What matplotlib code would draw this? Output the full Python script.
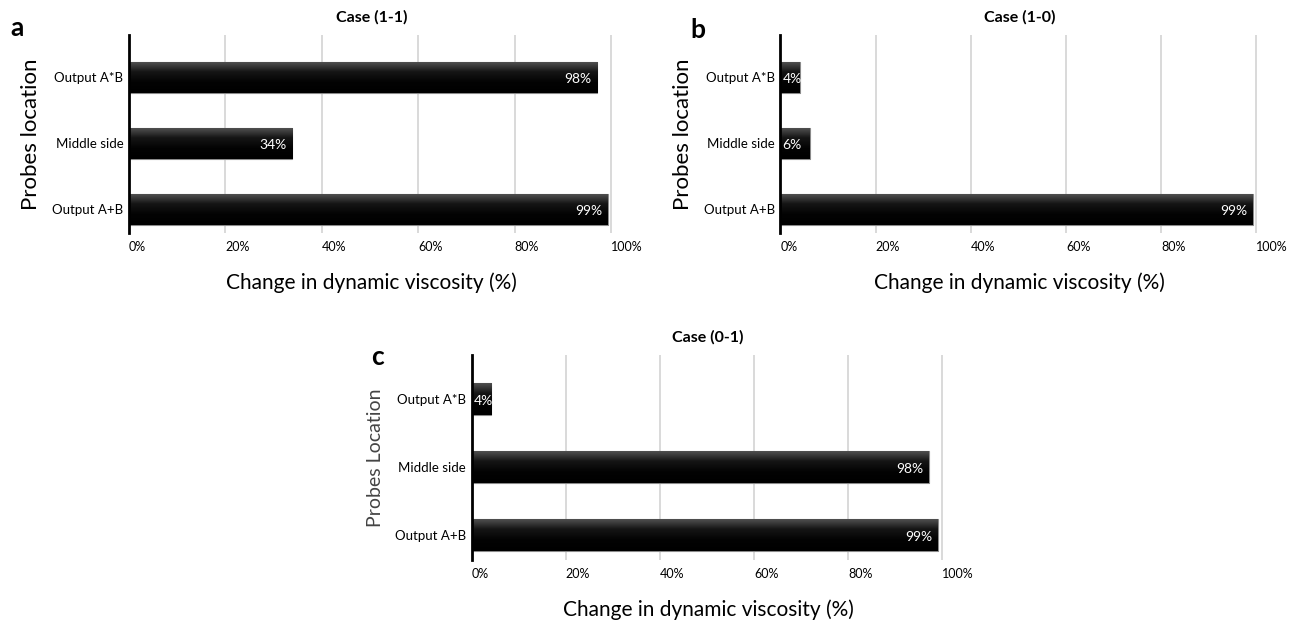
import numpy as np
import matplotlib
matplotlib.use("Agg")
import matplotlib.pyplot as plt

plt.rcParams["font.family"] = ["Lato", "DejaVu Sans"]

# categories top -> bottom
locations = ["Output A*B", "Middle side", "Output A+B"]
xticks = [0, 20, 40, 60, 80, 100]
xtick_labels = ["0%", "20%", "40%", "60%", "80%", "100%"]

# bar lengths (%), and the printed labels
case_11 = [97.1, 33.8, 99.3]
case_11_labels = ["98%", "34%", "99%"]
case_10 = [4.2, 6.1, 99.3]
case_10_labels = ["4%", "6%", "99%"]
case_01 = [4.1, 97.1, 99.0]
case_01_labels = ["4%", "98%", "99%"]

grad = np.linspace(0, 1, 64).reshape(-1, 1)
grad_cmap = matplotlib.colors.LinearSegmentedColormap.from_list(
    "bar", ["#000000", "#030303", "#151515", "#555555"])


def panel(ax, values, labels, title, ylabel, ylab_color="black", ylab_size=16):
    ypos = np.arange(len(locations))[::-1]
    bars = ax.barh(ypos, values, height=0.47, color="black",
                   edgecolor="#8a8a8a", linewidth=0.8, zorder=3)
    for b in bars:
        x0, y0, w, h = b.get_x(), b.get_y(), b.get_width(), b.get_height()
        im = ax.imshow(grad, extent=(x0, x0 + w, y0, y0 + h), aspect="auto",
                       cmap=grad_cmap, origin="lower", zorder=3.5)
        im.set_clip_path(b)
    for y, v, lab in zip(ypos, values, labels):
        if v > 15:
            ax.text(v - 1.2, y - 0.03, lab, ha="right", va="center",
                    color="white", fontsize=10, zorder=5)
        else:
            ax.text(0.4, y - 0.03, lab, ha="left", va="center",
                    color="white", fontsize=10, zorder=5)
    ax.set_xlim(0, 100.5)
    ax.set_ylim(-0.36, 2.64)
    ax.set_yticks(ypos, locations, fontsize=9.5)
    ax.set_xticks(xticks, xtick_labels, fontsize=9)
    for t in ax.get_xticklabels():
        t.set_horizontalalignment("left")
    ax.tick_params(length=0, pad=6)
    ax.tick_params(axis="y", pad=4)
    ax.grid(axis="x", color="#cfcfcf", linewidth=1.1, zorder=0)
    for s in ("top", "right", "bottom"):
        ax.spines[s].set_visible(False)
    ax.spines["left"].set_linewidth(2)
    ax.spines["left"].set_zorder(6)
    ax.set_title(title, fontsize=11.5, fontweight="bold", pad=10)
    ax.set_xlabel("Change in dynamic viscosity (%)", fontsize=15, labelpad=14)
    ax.set_ylabel(ylabel, fontsize=ylab_size, labelpad=8, color=ylab_color)


fig = plt.figure(figsize=(13.03, 6.25), dpi=100)
ax_a = fig.add_axes([0.099, 0.627, 0.372, 0.317])
ax_b = fig.add_axes([0.599, 0.627, 0.367, 0.317])
ax_c = fig.add_axes([0.362, 0.104, 0.363, 0.328])

panel(ax_a, case_11, case_11_labels, "Case (1-1)", "Probes location")
panel(ax_b, case_10, case_10_labels, "Case (1-0)", "Probes location")
panel(ax_c, case_01, case_01_labels, "Case (0-1)", "Probes Location",
      ylab_color="#444444", ylab_size=14)

# panel letters
fig.text(10 / 1303, 1 - 28 / 625, "a", fontsize=19, fontweight="bold", va="center")
fig.text(690 / 1303, 1 - 30 / 625, "b", fontsize=19, fontweight="bold", va="center")
fig.text(371 / 1303, 1 - 357 / 625, "c", fontsize=19, fontweight="bold", va="center")

fig.savefig("out.png", dpi=100)
